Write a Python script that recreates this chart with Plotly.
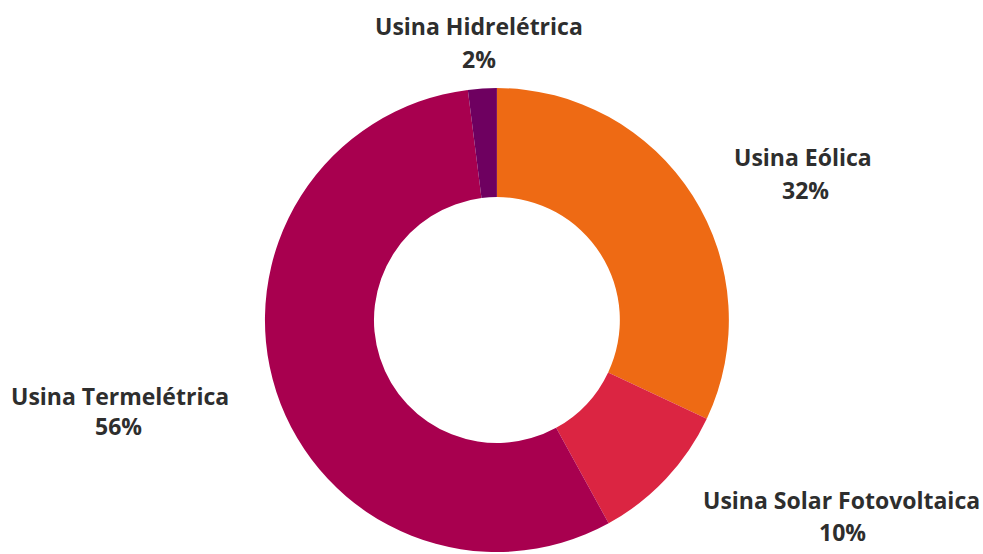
import plotly.graph_objects as go

# Electricity generation mix by plant type (share of total, %)
sources = ["Usina Eólica", "Usina Solar Fotovoltaica", "Usina Termelétrica", "Usina Hidrelétrica"]
shares = [32, 10, 56, 2]
colors = ["#EE6A14", "#DB2542", "#A8004F", "#6E0060"]

W, H = 983, 554

# Label placement (pixel centres of the name line and the percentage line)
label_pos = {
    "Usina Eólica": (803, 157, 805, 190),
    "Usina Solar Fotovoltaica": (841, 500, 842, 532),
    "Usina Termelétrica": (120, 396, 118, 426),
    "Usina Hidrelétrica": (479, 26, 479, 59),
}

fig = go.Figure(
    go.Pie(
        labels=sources,
        values=shares,
        sort=False,
        direction="clockwise",
        rotation=0,
        hole=0.53,
        marker=dict(colors=colors, line=dict(width=0)),
        textinfo="none",
        hoverinfo="label+percent",
        showlegend=False,
        domain=dict(x=[0.2, 0.811], y=[0.0036, 0.841]),
    )
)

font = dict(family="Open Sans", size=23, color="#2e2e2e")
annotations = []
for name, val in zip(sources, shares):
    nx, ny, px, py = label_pos[name]
    annotations.append(dict(text=f"<b>{name}</b>", x=nx / W, y=1 - ny / H,
                            xref="paper", yref="paper", xanchor="center", yanchor="middle",
                            showarrow=False, font=font))
    annotations.append(dict(text=f"<b>{val}%</b>", x=px / W, y=1 - py / H,
                            xref="paper", yref="paper", xanchor="center", yanchor="middle",
                            showarrow=False, font=font))

fig.update_layout(
    width=W,
    height=H,
    margin=dict(l=0, r=0, t=0, b=0),
    paper_bgcolor="white",
    plot_bgcolor="white",
    annotations=annotations,
)

fig.write_html("out.html")
